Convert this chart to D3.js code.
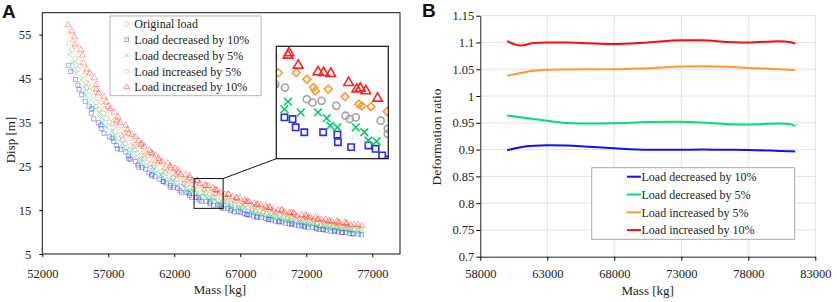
<!DOCTYPE html>
<html>
<head>
<meta charset="utf-8">
<script src="https://cdn.jsdelivr.net/npm/d3@7"></script>
<style>
  body { margin: 0; background: #fff; }
  svg { display: block; font-family: "Palatino Linotype", "Book Antiqua", Palatino, "Liberation Serif", serif; }
</style>
</head>
<body>
<div id="chart"></div>
<script>
// ---- panel A : displacement vs mass (scatter) ----
const massOrig = [54000, 54240, 54460, 54530, 54720, 55110, 55320, 55370, 55560, 55880, 56090, 56080, 56290, 56620, 56830, 57090, 57340, 57350, 57540, 57930, 58020, 58100, 58270, 58660, 58870, 58990, 59180, 59540, 59710, 59720, 59910, 60230, 60440, 60460, 60650, 61070, 61280, 61360, 61610, 61900, 61930, 62180, 62530, 62720, 62770, 62910, 63250, 63450, 63480, 63670, 64100, 64210, 64390, 64680, 64860, 64940, 65060, 65550, 65690, 65690, 66020, 66240, 66320, 66580, 66950, 67090, 67150, 67250, 67630, 67860, 67900, 68130, 68470, 68730, 68780, 68970, 69320, 69420, 69540, 69700, 70010, 70310, 70270, 70550, 70880, 71070, 71160, 71270, 71700, 71830, 71910, 72290, 72450, 72520, 72790, 73140, 73340, 73360, 73530, 73810, 74030, 74080, 74290, 74650, 74860, 75100, 75170, 75340, 75690, 75920, 76150];
const dispOrig = [53.0, 51.5, 49.5, 48.1, 47.1, 45.7, 44.0, 42.8, 42.2, 41.0, 39.6, 38.6, 38.0, 37.1, 35.9, 35.0, 34.7, 33.9, 32.8, 32.1, 31.8, 31.2, 30.2, 29.6, 29.4, 28.8, 27.9, 27.4, 27.3, 26.8, 25.9, 25.5, 25.4, 25.0, 24.2, 23.8, 23.8, 23.4, 22.7, 22.3, 22.4, 22.0, 21.3, 21.0, 21.1, 20.8, 20.1, 19.8, 19.9, 19.7, 19.0, 18.8, 18.9, 18.6, 18.0, 17.8, 17.9, 17.7, 17.2, 16.9, 17.0, 16.8, 16.4, 16.2, 16.3, 16.1, 15.7, 15.5, 15.5, 15.4, 15.0, 14.8, 14.9, 14.7, 14.4, 14.2, 14.3, 14.1, 13.8, 13.6, 13.7, 13.6, 13.2, 13.1, 13.2, 13.05, 12.8, 12.6, 12.7, 12.55, 12.3, 12.15, 12.2, 12.1, 11.8, 11.7, 11.8, 11.65, 11.4, 11.3, 11.4, 11.25, 11.1, 10.95, 11.0, 10.9, 10.7, 10.6, 10.65, 10.5, 10.4];

const massDec10 = [54000, 54140, 54510, 54700, 54780, 54980, 55270, 55530, 55740, 55710, 55900, 56250, 56440, 56460, 56670, 57080, 57290, 57410, 57610, 57690, 57940, 58320, 58520, 58560, 58660, 59070, 59250, 59270, 59570, 59830, 60080, 60290, 60290, 60530, 60900, 61140, 61190, 61390, 61730, 61680, 61920, 62260, 62430, 62550, 62950, 63110, 63160, 63320, 63660, 63820, 63880, 64050, 64420, 64700, 64710, 64970, 65310, 65450, 65580, 65710, 66070, 66330, 66250, 66540, 66840, 67010, 67300, 67480, 67530, 67680, 68010, 68240, 68280, 68590, 68930, 69120, 69170, 69330, 69660, 69950, 69910, 70160, 70420, 70690, 70910, 70890, 71140, 71420, 71630, 71860, 71860, 72120, 72480, 72730, 72790, 72980, 73250, 73300, 73500, 73870, 74140, 74150, 74400, 74710, 74730, 74970, 75290, 75480, 75550, 75940, 76180];
const dispDec10 = [48.0, 46.6, 44.8, 43.5, 42.5, 41.3, 39.8, 38.7, 38.1, 37.1, 35.8, 34.9, 34.4, 33.6, 32.5, 31.7, 31.4, 30.7, 29.7, 29.0, 28.8, 28.3, 27.3, 26.7, 26.6, 26.1, 25.3, 24.8, 24.7, 24.3, 23.5, 23.1, 22.9, 22.6, 22.0, 21.5, 21.5, 21.2, 20.6, 20.2, 20.2, 20.0, 19.4, 19.0, 19.0, 18.8, 18.3, 17.9, 17.9, 17.8, 17.3, 17.0, 17.0, 16.85, 16.4, 16.1, 16.2, 16.0, 15.6, 15.35, 15.4, 15.2, 14.9, 14.6, 14.7, 14.5, 14.2, 13.95, 14.0, 13.9, 13.6, 13.4, 13.45, 13.3, 13.1, 12.85, 12.9, 12.8, 12.5, 12.35, 12.35, 12.3, 12.0, 11.85, 11.9, 11.8, 11.6, 11.4, 11.45, 11.35, 11.2, 11.0, 11.05, 10.95, 10.75, 10.6, 10.6, 10.55, 10.4, 10.2, 10.25, 10.2, 10.05, 9.9, 9.95, 9.9, 9.7, 9.6, 9.6, 9.55, 9.4];

const massDec5 = [54030, 54270, 54310, 54570, 54930, 55140, 55160, 55300, 55670, 55820, 55880, 56310, 56500, 56540, 56790, 56860, 57250, 57490, 57460, 57840, 58090, 58120, 58420, 58730, 58730, 58980, 59340, 59460, 59490, 59690, 60040, 60350, 60370, 60550, 60920, 61010, 61120, 61270, 61660, 61880, 62010, 62190, 62250, 62700, 62880, 62930, 63140, 63430, 63730, 63660, 63980, 64320, 64490, 64560, 64700, 65060, 65230, 65310, 65470, 65820, 66110, 66080, 66360, 66740, 66860, 66940, 67110, 67430, 67740, 67900, 67980, 68170, 68440, 68450, 68690, 69070, 69280, 69380, 69610, 69920, 69950, 70120, 70520, 70640, 70720, 70890, 71350, 71490, 71570, 71790, 72070, 72140, 72280, 72730, 72820, 72900, 73140, 73450, 73700, 73770, 73990, 74310, 74490, 74470, 74660, 75020, 75250, 75330, 75600, 75960, 76120];
const dispDec5 = [50.5, 48.6, 47.1, 46.2, 44.7, 43.1, 41.9, 41.1, 40.0, 38.6, 37.8, 37.1, 36.1, 34.9, 34.2, 33.8, 33.0, 31.9, 31.3, 30.9, 30.2, 29.3, 28.8, 28.5, 27.9, 27.0, 26.7, 26.5, 25.9, 25.1, 24.8, 24.7, 24.1, 23.4, 23.1, 23.0, 22.6, 21.9, 21.7, 21.6, 21.2, 20.6, 20.4, 20.4, 20.0, 19.4, 19.3, 19.2, 18.85, 18.4, 18.2, 18.2, 17.85, 17.4, 17.3, 17.3, 17.0, 16.5, 16.45, 16.45, 16.15, 15.75, 15.65, 15.65, 15.4, 15.05, 15.0, 15.0, 14.7, 14.35, 14.35, 14.35, 14.1, 13.75, 13.75, 13.75, 13.55, 13.2, 13.2, 13.2, 13.0, 12.75, 12.65, 12.65, 12.5, 12.2, 12.2, 12.2, 12.05, 11.8, 11.75, 11.75, 11.6, 11.4, 11.3, 11.35, 11.15, 10.95, 10.9, 10.95, 10.8, 10.55, 10.6, 10.6, 10.45, 10.25, 10.2, 10.3, 10.1, 9.95, 9.9];

const massInc5 = [53970, 54180, 54480, 54720, 54740, 54910, 55350, 55450, 55500, 55660, 56020, 56280, 56510, 56610, 56730, 56940, 57240, 57530, 57580, 57770, 58130, 58300, 58310, 58480, 58860, 59040, 59060, 59390, 59690, 59950, 59990, 60130, 60520, 60620, 60750, 61110, 61230, 61300, 61490, 61860, 62070, 62150, 62320, 62740, 62940, 62980, 63210, 63290, 63540, 63890, 64100, 64230, 64270, 64520, 64850, 65120, 65180, 65360, 65680, 65870, 65900, 66050, 66530, 66610, 66760, 67100, 67220, 67340, 67450, 67840, 68090, 68070, 68330, 68680, 68840, 68980, 69190, 69540, 69710, 69710, 69880, 70220, 70460, 70660, 70770, 70880, 71300, 71510, 71520, 71770, 72010, 72250, 72530, 72500, 72660, 73130, 73270, 73330, 73550, 73810, 74120, 74290, 74380, 74560, 74840, 74890, 75110, 75470, 75750, 75930, 76100];
const dispInc5 = [55.3, 54.1, 52.3, 50.4, 48.9, 47.9, 46.5, 44.9, 43.8, 43.0, 41.9, 40.5, 39.5, 38.9, 38.0, 36.7, 36.0, 35.5, 34.7, 33.7, 33.0, 32.7, 31.9, 31.0, 30.5, 30.2, 29.6, 28.7, 28.3, 28.1, 27.5, 26.7, 26.3, 26.2, 25.7, 24.95, 24.6, 24.5, 24.1, 23.4, 23.2, 23.1, 22.6, 22.0, 21.8, 21.8, 21.35, 20.8, 20.6, 20.6, 20.2, 19.7, 19.5, 19.6, 19.15, 18.7, 18.6, 18.55, 18.25, 17.8, 17.65, 17.65, 17.35, 16.95, 16.9, 16.85, 16.6, 16.2, 16.1, 16.15, 15.85, 15.5, 15.45, 15.45, 15.25, 14.9, 14.85, 14.8, 14.6, 14.3, 14.2, 14.25, 13.95, 13.75, 13.7, 13.65, 13.5, 13.2, 13.15, 13.2, 13.0, 12.75, 12.7, 12.7, 12.5, 12.25, 12.25, 12.25, 12.0, 11.85, 11.85, 11.8, 11.65, 11.5, 11.5, 11.45, 11.25, 11.1, 11.1, 11.05, 10.9];

const massInc10 = [53940, 54230, 54440, 54500, 54920, 55060, 55120, 55360, 55610, 55940, 56100, 56080, 56260, 56690, 56870, 56990, 57170, 57450, 57730, 57650, 57900, 58310, 58450, 58540, 58790, 59020, 59290, 59530, 59480, 59720, 60140, 60240, 60340, 60580, 60820, 60870, 61070, 61500, 61710, 61750, 62040, 62270, 62310, 62490, 62860, 63150, 63180, 63410, 63750, 63730, 63930, 64320, 64430, 64570, 64920, 65080, 65150, 65260, 65490, 65840, 66080, 66110, 66410, 66730, 66710, 66990, 67340, 67460, 67560, 67680, 68060, 68300, 68270, 68560, 68900, 69020, 69220, 69240, 69520, 69870, 70130, 70140, 70370, 70710, 70850, 71030, 71090, 71320, 71670, 71940, 72000, 72180, 72300, 72690, 72940, 72870, 73160, 73450, 73690, 73790, 73940, 74330, 74420, 74500, 74910, 75040, 75080, 75350, 75660, 75910, 76200];
const dispInc10 = [57.2, 55.8, 54.5, 52.8, 51.6, 50.3, 48.5, 47.1, 46.2, 45.1, 43.6, 42.5, 41.7, 40.8, 39.6, 38.6, 38.1, 37.3, 36.2, 35.3, 34.9, 34.3, 33.3, 32.5, 32.2, 31.7, 30.8, 30.2, 29.9, 29.5, 28.6, 28.1, 27.8, 27.5, 26.75, 26.2, 26.05, 25.7, 25.1, 24.55, 24.5, 24.2, 23.6, 23.1, 23.05, 22.85, 22.3, 21.8, 21.8, 21.65, 21.05, 20.65, 20.6, 20.55, 20.0, 19.6, 19.65, 19.5, 19.05, 18.6, 18.65, 18.55, 18.1, 17.7, 17.8, 17.7, 17.35, 16.95, 17.0, 16.95, 16.6, 16.3, 16.3, 16.2, 15.9, 15.6, 15.65, 15.55, 15.25, 14.95, 15.0, 15.0, 14.6, 14.35, 14.45, 14.4, 14.1, 13.8, 13.9, 13.9, 13.6, 13.35, 13.4, 13.4, 13.05, 12.85, 12.9, 12.9, 12.6, 12.4, 12.45, 12.45, 12.25, 12.0, 12.1, 12.1, 11.8, 11.6, 11.7, 11.7, 11.45];

const namesA = ["Original load", "Load decreased by 10%", "Load decreased by 5%", "Load increased by 5%", "Load increased by 10%"];
const xTicksA = [52000, 57000, 62000, 67000, 72000, 77000];
const yTicksA = [5, 15, 25, 35, 45, 55];

// ---- panel B : deformation ratio vs mass ----
const massB = [60000, 61000, 62000, 63000, 64500, 66000, 68000, 70500, 73000, 74500, 76500, 78000, 80300, 81100, 81500];
const ratioDec10 = [0.8988, 0.9045, 0.9072, 0.908, 0.9077, 0.9055, 0.9025, 0.8998, 0.8998, 0.9, 0.8998, 0.8994, 0.8975, 0.8968, 0.8963];
const ratioDec5 = [0.9637, 0.9605, 0.957, 0.9537, 0.9495, 0.9485, 0.949, 0.9515, 0.952, 0.9505, 0.9475, 0.947, 0.9488, 0.9478, 0.9438];
const ratioInc5 = [1.038, 1.043, 1.047, 1.049, 1.0495, 1.05, 1.05, 1.052, 1.055, 1.0556, 1.0545, 1.0525, 1.05, 1.049, 1.0485];
const ratioInc10 = [1.1025, 1.0945, 1.099, 1.1, 1.1, 1.0985, 1.097, 1.1, 1.104, 1.104, 1.101, 1.1, 1.1025, 1.101, 1.098];
const namesB = ["Load decreased by 10%", "Load decreased by 5%", "Load increased by 5%", "Load increased by 10%"];
const xTicksB = [58000, 63000, 68000, 73000, 78000, 83000];
const yTicksB = [0.7, 0.75, 0.8, 0.85, 0.9, 0.95, 1, 1.05, 1.1, 1.15];

const colorsA = ["#a3a3a3", "#2b2bf0", "#00d060", "#ff9a2e", "#ff2020"];
const colorsB = ["#1010ff", "#00e070", "#ff9a2e", "#ff0a0a"];
const symTimes = d3.symbolTimes || d3.symbolX || d3.symbolCross;
const symDiamond = d3.symbolDiamond2 || d3.symbolDiamond;
const symbolsA = [d3.symbolCircle, d3.symbolSquare, symTimes, symDiamond, d3.symbolTriangle];
const serif = "'Palatino Linotype', 'Book Antiqua', Palatino, 'Liberation Serif', serif";

const W = 837, H = 302;
const svg = d3.select("#chart").append("svg").attr("width", W).attr("height", H);

// ================= Panel A =================
const A = { left: 42.3, right: 400, top: 12.7, bottom: 254 };
const xA = d3.scaleLinear().domain([52000, 79100]).range([A.left, A.right]);
const yA = d3.scaleLinear().domain([5, 60]).range([A.bottom, A.top]);

const seriesA = [
  { mass: massOrig, disp: dispOrig },
  { mass: massDec10, disp: dispDec10 },
  { mass: massDec5, disp: dispDec5 },
  { mass: massInc5, disp: dispInc5 },
  { mass: massInc10, disp: dispInc10 }
].map((s, i) => ({
  name: namesA[i], color: colorsA[i], symbol: symbolsA[i],
  points: s.mass.map((m, j) => ({ m: m, d: s.disp[j] }))
}));

const gA = svg.append("g");

function drawMarkers(g, x, y, size, sw, opacity) {
  seriesA.forEach(s => {
    g.append("g").selectAll("path")
      .data(s.points)
      .enter()
      .append("path")
      .attr("transform", d => `translate(${x(d.m)},${y(d.d)})`)
      .attr("d", d3.symbol().type(s.symbol).size(size))
      .attr("fill", "none")
      .attr("stroke", s.color)
      .attr("stroke-width", sw)
      .attr("opacity", opacity);
  });
}

drawMarkers(gA, xA, yA, 17, 0.8, 0.5);

gA.append("g")
  .attr("transform", `translate(0,${A.bottom})`)
  .call(d3.axisBottom(xA).tickValues(xTicksA).tickSize(3).tickSizeOuter(0).tickPadding(12).tickFormat(d3.format("d")))
  .call(g => g.select(".domain").remove())
  .selectAll("text").attr("font-size", 12.5).attr("fill", "#222").style("font-family", serif);

gA.append("g")
  .attr("transform", `translate(${A.left},0)`)
  .call(d3.axisLeft(yA).tickValues(yTicksA).tickSize(3).tickSizeOuter(0).tickPadding(8))
  .call(g => g.select(".domain").remove())
  .selectAll("text").attr("font-size", 12.5).attr("fill", "#222").style("font-family", serif);

gA.append("rect")
  .attr("x", A.left).attr("y", A.top)
  .attr("width", A.right - A.left).attr("height", A.bottom - A.top)
  .attr("fill", "none").attr("stroke", "#111").attr("stroke-width", 1);

// legend A
const legA = gA.append("g");
legA.append("rect").attr("x", 110).attr("y", 16).attr("width", 151).attr("height", 79.7)
  .attr("fill", "#fff").attr("stroke", "#b5b5b5");
seriesA.forEach((s, i) => {
  const cy = 24 + i * 15.75;
  legA.append("path")
    .attr("transform", `translate(126.7,${cy})`)
    .attr("d", d3.symbol().type(s.symbol).size(14))
    .attr("fill", "none").attr("stroke", s.color).attr("stroke-width", 0.8).attr("opacity", 0.6);
  legA.append("text").attr("x", 134.3).attr("y", cy + 4.3)
    .attr("font-size", 12).attr("fill", "#222").text(s.name);
});

// zoom box + inset
const zoomM = [63500, 65700], zoomD = [15.4, 22.2];
const inset = { left: 276.3, right: 388.3, top: 46.3, bottom: 158.7 };
gA.append("rect")
  .attr("x", xA(zoomM[0])).attr("y", yA(zoomD[1]))
  .attr("width", xA(zoomM[1]) - xA(zoomM[0])).attr("height", yA(zoomD[0]) - yA(zoomD[1]))
  .attr("fill", "none").attr("stroke", "#111").attr("stroke-width", 1);
gA.append("line")
  .attr("x1", xA(zoomM[1])).attr("y1", yA(zoomD[1]))
  .attr("x2", inset.left).attr("y2", inset.bottom)
  .attr("stroke", "#111").attr("stroke-width", 1);

const xI = d3.scaleLinear().domain(zoomM).range([inset.left, inset.right]);
const yI = d3.scaleLinear().domain(zoomD).range([inset.bottom, inset.top]);
svg.append("defs").append("clipPath").attr("id", "insetClip")
  .append("rect").attr("x", inset.left).attr("y", inset.top)
  .attr("width", inset.right - inset.left).attr("height", inset.bottom - inset.top);
gA.append("rect")
  .attr("x", inset.left).attr("y", inset.top)
  .attr("width", inset.right - inset.left).attr("height", inset.bottom - inset.top)
  .attr("fill", "#fff");
const gI = gA.append("g").attr("clip-path", "url(#insetClip)");
drawMarkers(gI, xI, yI, 40, 1.6, 1);
gA.append("rect")
  .attr("x", inset.left).attr("y", inset.top)
  .attr("width", inset.right - inset.left).attr("height", inset.bottom - inset.top)
  .attr("fill", "none").attr("stroke", "#111").attr("stroke-width", 1.2);

// titles A
gA.append("text").attr("x", 220).attr("y", 294).attr("text-anchor", "middle")
  .attr("font-size", 13).attr("fill", "#222").text("Mass [kg]");
gA.append("text").attr("transform", "translate(15,140) rotate(-90)").attr("text-anchor", "middle")
  .attr("font-size", 13).attr("fill", "#222").text("Disp [m]");
gA.append("text").attr("x", 2).attr("y", 18)
  .style("font-family", "Arial, 'Liberation Sans', sans-serif")
  .attr("font-size", 19).attr("font-weight", "bold").attr("fill", "#111").text("A");

// ================= Panel B =================
const B = { left: 480.3, right: 815.3, top: 15.7, bottom: 256.7 };
const xB = d3.scaleLinear().domain([58000, 83000]).range([B.left, B.right]);
const yB = d3.scaleLinear().domain([0.7, 1.15]).range([B.bottom, B.top]);
const gB = svg.append("g");

// gridlines
gB.append("g").selectAll("line").data(xTicksB.slice(1)).enter().append("line")
  .attr("x1", d => xB(d)).attr("x2", d => xB(d)).attr("y1", B.top).attr("y2", B.bottom)
  .attr("stroke", "#e3e3e3").attr("stroke-width", 1);
gB.append("g").selectAll("line").data(yTicksB.slice(1)).enter().append("line")
  .attr("x1", B.left).attr("x2", B.right).attr("y1", d => yB(d)).attr("y2", d => yB(d))
  .attr("stroke", "#e3e3e3").attr("stroke-width", 1);

const seriesB = [ratioDec10, ratioDec5, ratioInc5, ratioInc10].map((r, i) => ({
  name: namesB[i], color: colorsB[i],
  points: massB.map((m, j) => ({ m: m, r: r[j] }))
}));
const lineB = d3.line().x(d => xB(d.m)).y(d => yB(d.r)).curve(d3.curveMonotoneX);
gB.selectAll("path.series").data(seriesB).enter().append("path")
  .attr("class", "series")
  .attr("d", d => lineB(d.points))
  .attr("fill", "none").attr("stroke", d => d.color).attr("stroke-width", 2);

gB.append("g")
  .attr("transform", `translate(0,${B.bottom})`)
  .call(d3.axisBottom(xB).tickValues(xTicksB).tickSize(4).tickSizeOuter(0).tickPadding(8.5).tickFormat(d3.format("d")))
  .call(g => g.select(".domain").attr("stroke", "#222"))
  .selectAll("text").attr("font-size", 12.5).attr("fill", "#222").style("font-family", serif);
gB.append("g")
  .attr("transform", `translate(${B.left},0)`)
  .call(d3.axisLeft(yB).tickValues(yTicksB).tickSize(4).tickSizeOuter(0).tickPadding(2)
    .tickFormat(d => String(+d.toFixed(2))))
  .call(g => g.select(".domain").attr("stroke", "#222"))
  .selectAll("text").attr("font-size", 12.5).attr("fill", "#222").style("font-family", serif);

// legend B
const legB = gB.append("g");
legB.append("rect").attr("x", 591.7).attr("y", 167.7).attr("width", 203).attr("height", 71.6)
  .attr("fill", "#fff").attr("stroke", "#a8a8a8");
seriesB.forEach((s, i) => {
  const cy = 176.7 + i * 17.8;
  legB.append("line").attr("x1", 627).attr("x2", 641).attr("y1", cy).attr("y2", cy)
    .attr("stroke", s.color).attr("stroke-width", 2);
  legB.append("text").attr("x", 641.5).attr("y", cy + 4.3)
    .attr("font-size", 12).attr("fill", "#222").text(s.name);
});

gB.append("text").attr("x", 647.7).attr("y", 295).attr("text-anchor", "middle")
  .attr("font-size", 13).attr("fill", "#222").text("Mass [kg]");
gB.append("text").attr("transform", "translate(441,137) rotate(-90)").attr("text-anchor", "middle")
  .attr("font-size", 13.5).attr("fill", "#222").text("Deformation ratio");
gB.append("text").attr("x", 422).attr("y", 17)
  .style("font-family", "Arial, 'Liberation Sans', sans-serif")
  .attr("font-size", 19).attr("font-weight", "bold").attr("fill", "#111").text("B");
</script>
</body>
</html>
